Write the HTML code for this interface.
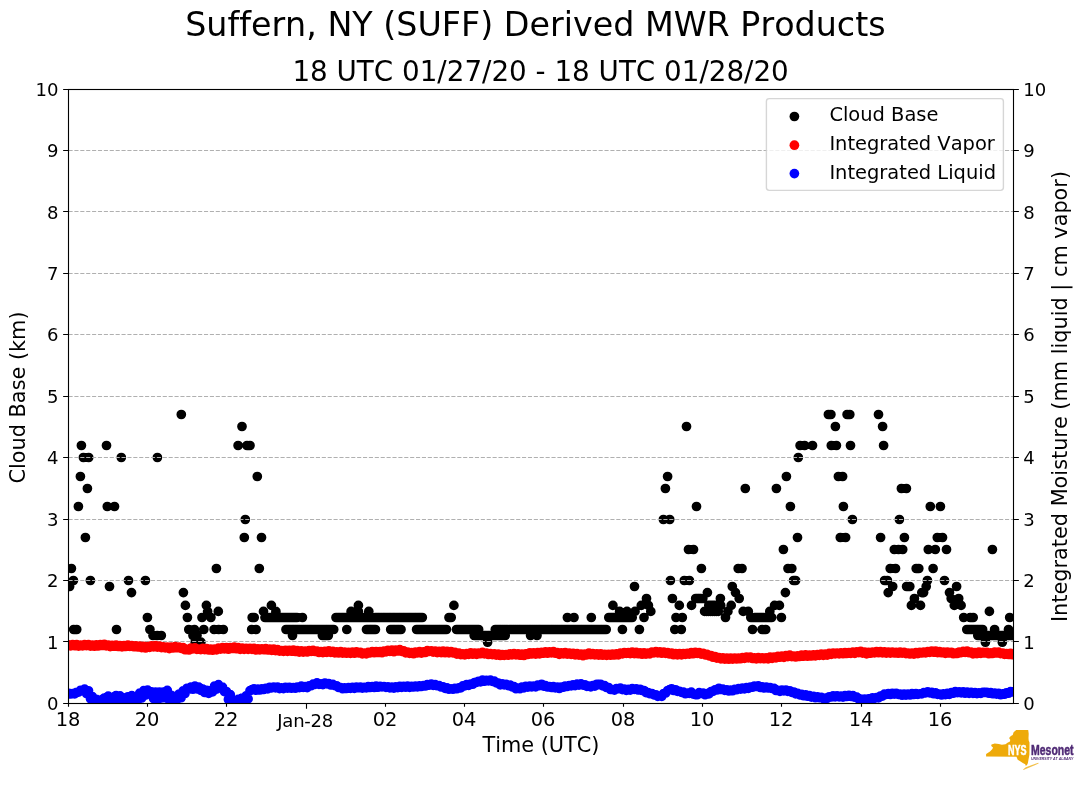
<!DOCTYPE html><html><head><meta charset="utf-8"><title>Suffern, NY (SUFF) Derived MWR Products</title>
<style>html,body{margin:0;padding:0;background:#fff}svg{display:block}text{font-family:'DejaVu Sans','Liberation Sans',sans-serif;fill:#000;font-variant-ligatures:none;font-feature-settings:"liga" 0,"clig" 0;font-kerning:none}</style></head><body>
<svg width="1089" height="804" viewBox="0 0 1089 804">
<rect width="1089" height="804" fill="#fff"/>
<defs><clipPath id="ax"><rect x="68.5" y="89.5" width="945.0" height="614.0"/></clipPath></defs>
<g clip-path="url(#ax)"><path d="M69.6 586.5h0M71.4 568.5h0M73.4 580.5h0M73.7 629.5h0M76.7 629.5h0M78.4 506.5h0M80.4 476.5h0M81.4 445.5h0M83.4 457.5h0M85.4 537.5h0M87.4 488.5h0M88.7 457.5h0M90.4 580.5h0M106.5 445.5h0M107.3 506.5h0M109.5 586.5h0M114.5 506.5h0M116.5 629.5h0M121.3 457.5h0M128.5 580.5h0M131.5 592.6h0M145.4 580.5h0M147.4 617.5h0M149.9 629.5h0M153.0 635.5h0M157.2 635.5h0M157.4 457.5h0M161.3 635.5h0M181.3 414.5h0M183.4 592.6h0M185.4 605.4h0M187.4 617.5h0M188.8 629.5h0M193.0 635.5h0M194.4 629.5h0M195.2 642.2h0M197.0 635.5h0M200.9 642.2h0M202.0 617.5h0M203.8 629.5h0M206.4 605.4h0M207.6 611.4h0M210.9 617.5h0M214.1 629.5h0M216.4 568.5h0M218.3 611.4h0M218.7 629.5h0M223.3 629.5h0M238.1 445.5h0M242.0 426.5h0M244.3 537.5h0M245.3 519.5h0M247.0 445.5h0M250.0 445.5h0M251.7 629.5h0M252.2 617.5h0M254.2 617.5h0M256.1 629.5h0M257.3 476.5h0M259.3 568.5h0M261.5 537.5h0M263.5 611.4h0M265.0 617.5h0M267.0 617.5h0M269.0 617.5h0M271.0 617.5h0M271.4 605.4h0M273.0 617.5h0M275.0 617.5h0M275.9 611.4h0M277.0 617.5h0M279.0 617.5h0M281.0 617.5h0M283.0 617.5h0M285.0 617.5h0M286.0 629.5h0M287.0 617.5h0M288.0 629.5h0M289.0 617.5h0M290.0 629.5h0M291.0 617.5h0M292.0 629.5h0M292.5 635.5h0M293.0 617.5h0M293.9 629.5h0M295.0 617.5h0M295.9 629.5h0M297.0 617.5h0M297.9 629.5h0M299.9 629.5h0M301.9 629.5h0M302.4 617.5h0M303.9 629.5h0M305.9 629.5h0M307.9 629.5h0M309.9 629.5h0M311.8 629.5h0M313.8 629.5h0M315.8 629.5h0M317.8 629.5h0M319.8 629.5h0M321.8 629.5h0M322.4 635.5h0M323.8 629.5h0M324.4 635.5h0M325.8 629.5h0M326.3 635.5h0M327.7 629.5h0M328.3 635.5h0M329.7 629.5h0M331.7 629.5h0M333.7 629.5h0M336.0 617.5h0M338.0 617.5h0M339.9 617.5h0M341.9 617.5h0M343.8 617.5h0M345.8 617.5h0M346.8 629.5h0M347.8 617.5h0M349.7 617.5h0M351.1 611.4h0M351.7 617.5h0M353.7 617.5h0M355.6 617.5h0M357.6 617.5h0M358.4 605.4h0M358.4 611.4h0M359.5 617.5h0M361.5 617.5h0M363.5 617.5h0M365.4 617.5h0M366.5 629.5h0M367.4 617.5h0M368.3 629.5h0M368.8 611.4h0M369.3 617.5h0M370.1 629.5h0M371.3 617.5h0M371.8 629.5h0M373.3 617.5h0M373.6 629.5h0M375.2 617.5h0M375.4 629.5h0M377.2 617.5h0M379.1 617.5h0M381.1 617.5h0M383.1 617.5h0M385.0 617.5h0M387.0 617.5h0M389.0 617.5h0M390.7 629.5h0M390.9 617.5h0M392.8 629.5h0M392.9 617.5h0M394.8 629.5h0M394.8 617.5h0M396.8 617.5h0M396.9 629.5h0M398.8 617.5h0M398.9 629.5h0M400.7 617.5h0M401.0 629.5h0M402.7 617.5h0M404.6 617.5h0M406.6 617.5h0M408.6 617.5h0M410.5 617.5h0M412.5 617.5h0M414.5 617.5h0M416.4 617.5h0M416.6 629.5h0M418.4 617.5h0M418.6 629.5h0M420.3 617.5h0M420.6 629.5h0M422.3 617.5h0M422.6 629.5h0M424.5 629.5h0M426.5 629.5h0M428.5 629.5h0M430.5 629.5h0M432.5 629.5h0M434.5 629.5h0M436.5 629.5h0M438.5 629.5h0M440.4 629.5h0M442.4 629.5h0M444.4 629.5h0M446.4 629.5h0M449.0 617.5h0M451.2 617.5h0M453.9 605.4h0M456.5 629.5h0M458.5 629.5h0M460.5 629.5h0M462.5 629.5h0M464.5 629.5h0M466.5 629.5h0M468.6 629.5h0M470.6 629.5h0M472.6 629.5h0M474.2 635.5h0M474.6 629.5h0M476.1 635.5h0M476.6 629.5h0M478.1 635.5h0M478.6 629.5h0M480.0 635.5h0M481.9 635.5h0M483.9 635.5h0M485.8 635.5h0M487.6 642.2h0M487.8 635.5h0M489.7 635.5h0M491.6 635.5h0M493.6 635.5h0M495.3 629.5h0M495.5 635.5h0M497.3 629.5h0M497.4 635.5h0M499.3 629.5h0M499.4 635.5h0M501.2 629.5h0M501.3 635.5h0M503.2 629.5h0M503.3 635.5h0M505.2 635.5h0M505.2 629.5h0M507.2 629.5h0M509.2 629.5h0M511.1 629.5h0M513.1 629.5h0M515.1 629.5h0M517.1 629.5h0M519.1 629.5h0M521.0 629.5h0M523.0 629.5h0M525.0 629.5h0M527.0 629.5h0M529.0 629.5h0M530.6 635.5h0M530.9 629.5h0M532.9 629.5h0M534.9 629.5h0M536.9 629.5h0M537.0 635.5h0M538.9 629.5h0M540.8 629.5h0M542.8 629.5h0M544.8 629.5h0M546.8 629.5h0M548.8 629.5h0M550.8 629.5h0M552.7 629.5h0M554.7 629.5h0M556.7 629.5h0M558.7 629.5h0M560.7 629.5h0M562.6 629.5h0M564.6 629.5h0M566.6 629.5h0M567.4 617.5h0M568.6 629.5h0M570.6 629.5h0M572.5 629.5h0M574.0 617.5h0M574.5 629.5h0M576.5 629.5h0M578.5 629.5h0M580.5 629.5h0M582.4 629.5h0M584.4 629.5h0M586.4 629.5h0M588.4 629.5h0M590.4 629.5h0M591.3 617.5h0M592.3 629.5h0M594.3 629.5h0M596.3 629.5h0M598.3 629.5h0M600.3 629.5h0M602.2 629.5h0M604.2 629.5h0M606.2 629.5h0M608.8 617.5h0M610.8 617.5h0M612.7 617.5h0M612.9 605.4h0M614.6 617.5h0M616.6 617.5h0M618.5 617.5h0M619.6 611.4h0M620.5 617.5h0M622.4 629.5h0M622.5 617.5h0M624.4 617.5h0M626.4 617.5h0M627.0 611.4h0M628.3 617.5h0M630.2 617.5h0M632.2 617.5h0M634.5 586.5h0M635.0 611.4h0M639.4 629.5h0M641.3 605.4h0M644.0 617.5h0M646.5 598.5h0M648.4 605.4h0M650.8 611.4h0M663.4 519.5h0M665.4 488.5h0M667.6 476.5h0M669.7 519.5h0M670.4 580.5h0M672.4 598.5h0M674.8 629.5h0M676.0 617.5h0M679.3 605.4h0M681.3 629.5h0M682.3 617.5h0M684.3 580.5h0M686.5 426.5h0M688.5 549.5h0M689.4 580.5h0M691.5 605.4h0M693.5 549.5h0M695.7 598.5h0M696.5 506.5h0M697.5 598.5h0M699.2 598.5h0M701.0 598.5h0M701.4 568.5h0M702.8 598.5h0M704.6 611.4h0M706.6 611.4h0M707.4 592.6h0M708.5 611.4h0M708.8 605.4h0M710.5 611.4h0M710.8 605.4h0M712.4 611.4h0M712.8 605.4h0M714.4 611.4h0M714.8 605.4h0M716.3 611.4h0M716.7 605.4h0M718.3 611.4h0M718.7 605.4h0M720.4 598.5h0M720.7 605.4h0M725.5 617.5h0M727.9 611.4h0M731.2 605.4h0M732.3 586.5h0M735.5 592.6h0M738.2 568.5h0M739.2 598.5h0M742.0 568.5h0M743.2 611.4h0M745.3 488.5h0M748.3 611.4h0M750.8 617.5h0M752.5 629.5h0M752.7 617.5h0M754.6 617.5h0M756.5 617.5h0M758.4 617.5h0M760.3 617.5h0M762.1 629.5h0M762.1 617.5h0M764.0 617.5h0M765.7 629.5h0M765.9 617.5h0M767.8 617.5h0M769.7 617.5h0M769.8 611.4h0M771.6 617.5h0M774.6 605.4h0M776.4 488.5h0M779.4 605.4h0M781.4 617.5h0M783.4 549.5h0M785.4 592.6h0M786.4 476.5h0M788.0 568.5h0M790.4 506.5h0M791.8 568.5h0M793.6 580.5h0M795.6 580.5h0M797.5 537.5h0M798.3 457.5h0M800.1 445.5h0M804.6 445.5h0M812.5 445.5h0M828.4 414.5h0M830.9 414.5h0M831.3 445.5h0M835.4 426.5h0M836.4 445.5h0M838.4 476.5h0M840.3 537.5h0M842.6 476.5h0M843.4 506.5h0M845.6 537.5h0M847.1 414.5h0M849.8 414.5h0M850.5 445.5h0M852.4 519.5h0M878.5 414.5h0M880.6 537.5h0M882.6 426.5h0M883.6 445.5h0M884.6 580.5h0M887.4 580.5h0M888.2 592.6h0M890.2 568.5h0M892.7 586.5h0M894.3 549.5h0M895.5 568.5h0M898.5 549.5h0M899.4 519.5h0M901.4 488.5h0M902.7 549.5h0M904.4 537.5h0M906.4 488.5h0M906.6 586.5h0M909.8 586.5h0M911.4 605.4h0M914.4 598.5h0M916.2 568.5h0M918.8 568.5h0M920.5 605.4h0M921.8 592.6h0M923.6 592.6h0M926.2 586.5h0M927.4 580.5h0M928.3 549.5h0M930.3 506.5h0M933.1 568.5h0M935.3 549.5h0M937.3 537.5h0M940.4 506.5h0M942.5 537.5h0M944.5 580.5h0M946.5 549.5h0M949.5 592.6h0M951.2 598.5h0M954.3 605.4h0M956.6 586.5h0M958.7 598.5h0M961.1 605.4h0M963.7 617.5h0M966.8 629.5h0M968.8 629.5h0M970.2 617.5h0M970.8 629.5h0M972.7 629.5h0M973.2 617.5h0M974.7 629.5h0M976.7 629.5h0M977.8 635.5h0M978.6 629.5h0M979.8 635.5h0M980.6 629.5h0M981.7 635.5h0M982.6 629.5h0M983.7 635.5h0M985.4 642.2h0M985.6 635.5h0M987.6 635.5h0M989.4 611.4h0M989.5 635.5h0M991.5 635.5h0M992.4 549.5h0M993.4 635.5h0M994.6 629.5h0M995.4 635.5h0M997.4 635.5h0M999.3 635.5h0M1001.3 635.5h0M1002.3 642.2h0M1003.2 635.5h0M1005.2 635.5h0M1007.1 635.5h0M1008.5 629.5h0M1009.1 635.5h0M1009.7 617.5h0M1011.0 635.5h0M1013.0 635.5h0" stroke="#000" stroke-width="9.72" stroke-linecap="round" fill="none"/></g>
<path d="M68.5 641.50H1013.5M68.5 580.50H1013.5M68.5 519.50H1013.5M68.5 457.50H1013.5M68.5 396.50H1013.5M68.5 334.50H1013.5M68.5 273.50H1013.5M68.5 211.50H1013.5M68.5 150.50H1013.5" stroke="#b0b0b0" stroke-width="1.11" stroke-dasharray="4.11 1.78" fill="none"/>
<g clip-path="url(#ax)"><path d="M68.8 644.8h0M70.8 645.8h0M72.7 644.5h0M74.7 645.7h0M76.7 644.7h0M78.6 646.1h0M80.6 645.1h0M82.6 645.9h0M84.6 644.7h0M86.5 645.6h0M88.5 644.7h0M90.5 646.1h0M92.4 645.2h0M94.4 646.2h0M96.4 644.9h0M98.3 646.0h0M100.3 644.7h0M102.3 645.5h0M104.3 644.3h0M106.2 645.8h0M108.2 645.0h0M110.2 646.6h0M112.1 645.4h0M114.1 646.2h0M116.1 645.1h0M118.0 646.5h0M120.0 645.7h0M122.0 646.8h0M124.0 645.5h0M125.9 646.5h0M127.9 645.2h0M129.9 646.4h0M131.8 645.5h0M133.8 646.7h0M135.8 645.8h0M137.8 647.0h0M139.7 646.2h0M141.7 647.6h0M143.7 646.4h0M145.6 648.0h0M147.6 646.6h0M149.6 647.3h0M151.5 645.8h0M153.5 646.9h0M155.5 645.7h0M157.4 647.1h0M159.4 646.0h0M161.4 647.6h0M163.4 646.8h0M165.3 647.9h0M167.3 647.0h0M169.3 648.6h0M171.2 647.2h0M173.2 648.0h0M175.2 646.7h0M177.1 647.7h0M179.1 647.1h0M181.1 648.4h0M183.1 647.7h0M185.0 649.7h0M187.0 649.3h0M189.0 650.0h0M190.9 648.2h0M192.9 648.8h0M194.9 647.9h0M196.9 649.3h0M198.8 649.0h0M200.8 649.6h0M202.8 648.4h0M204.7 649.6h0M206.7 648.5h0M208.7 650.0h0M210.6 649.1h0M212.6 650.2h0M214.6 649.2h0M216.6 649.8h0M218.5 648.2h0M220.5 649.1h0M222.5 647.7h0M224.4 648.8h0M226.4 647.6h0M228.4 649.2h0M230.3 647.6h0M232.3 648.5h0M234.3 647.2h0M236.2 648.7h0M238.2 647.7h0M240.2 649.3h0M242.2 648.2h0M244.1 649.4h0M246.1 648.4h0M248.1 649.3h0M250.0 648.3h0M252.0 649.3h0M254.0 648.3h0M255.9 650.0h0M257.9 648.8h0M259.9 649.9h0M261.9 648.8h0M263.8 649.7h0M265.8 648.7h0M267.8 650.0h0M269.7 649.0h0M271.7 650.4h0M273.7 649.1h0M275.6 650.6h0M277.6 649.6h0M279.6 651.1h0M281.6 650.5h0M283.5 651.4h0M285.5 650.3h0M287.5 651.4h0M289.4 650.3h0M291.4 651.2h0M293.4 650.2h0M295.3 651.5h0M297.3 650.7h0M299.3 652.1h0M301.3 650.9h0M303.2 652.1h0M305.2 651.0h0M307.2 652.0h0M309.1 650.5h0M311.1 651.4h0M313.1 650.4h0M315.1 651.5h0M317.0 651.1h0M319.0 652.5h0M321.0 651.6h0M322.9 652.6h0M324.9 651.3h0M326.9 652.4h0M328.8 650.9h0M330.8 652.3h0M332.8 651.4h0M334.8 652.9h0M336.7 651.9h0M338.7 653.0h0M340.7 651.6h0M342.6 653.1h0M344.6 652.2h0M346.6 653.2h0M348.5 652.4h0M350.5 653.4h0M352.5 652.0h0M354.4 653.2h0M356.4 651.8h0M358.4 652.8h0M360.4 652.4h0M362.3 653.9h0M364.3 653.0h0M366.3 653.9h0M368.2 652.4h0M370.2 652.8h0M372.2 651.6h0M374.2 652.7h0M376.1 651.7h0M378.1 652.5h0M380.1 651.6h0M382.0 652.7h0M384.0 651.0h0M386.0 651.8h0M387.9 650.3h0M389.9 651.4h0M391.9 650.2h0M393.9 651.7h0M395.8 650.1h0M397.8 651.0h0M399.8 649.6h0M401.7 651.4h0M403.7 650.9h0M405.7 652.9h0M407.6 652.0h0M409.6 653.4h0M411.6 652.6h0M413.6 653.7h0M415.5 652.2h0M417.5 652.8h0M419.5 651.7h0M421.4 653.1h0M423.4 651.8h0M425.4 652.5h0M427.3 650.7h0M429.3 651.4h0M431.3 650.8h0M433.2 652.1h0M435.2 651.1h0M437.2 652.6h0M439.2 651.4h0M441.1 652.6h0M443.1 651.2h0M445.1 652.7h0M447.0 651.3h0M449.0 652.8h0M451.0 651.5h0M452.9 652.8h0M454.9 652.3h0M456.9 654.1h0M458.9 653.2h0M460.8 654.6h0M462.8 653.9h0M464.8 654.9h0M466.7 653.5h0M468.7 654.4h0M470.7 652.9h0M472.7 654.2h0M474.6 653.2h0M476.6 654.4h0M478.6 653.2h0M480.5 653.7h0M482.5 652.4h0M484.5 653.8h0M486.4 653.1h0M488.4 654.5h0M490.4 653.5h0M492.4 654.6h0M494.3 653.8h0M496.3 655.1h0M498.3 654.1h0M500.2 655.5h0M502.2 654.6h0M504.2 655.4h0M506.1 654.5h0M508.1 655.2h0M510.1 653.8h0M512.0 654.8h0M514.0 653.6h0M516.0 654.8h0M518.0 653.8h0M519.9 655.2h0M521.9 654.0h0M523.9 655.5h0M525.8 653.8h0M527.8 654.5h0M529.8 652.8h0M531.8 654.0h0M533.7 652.9h0M535.7 654.1h0M537.7 652.7h0M539.6 653.8h0M541.6 652.3h0M543.6 653.2h0M545.5 651.9h0M547.5 653.2h0M549.5 651.9h0M551.4 652.8h0M553.4 651.6h0M555.4 653.2h0M557.4 652.6h0M559.3 654.3h0M561.3 652.9h0M563.3 653.9h0M565.2 652.5h0M567.2 654.1h0M569.2 653.2h0M571.1 654.3h0M573.1 653.3h0M575.1 654.9h0M577.1 653.7h0M579.0 655.1h0M581.0 654.2h0M583.0 655.7h0M584.9 654.2h0M586.9 654.9h0M588.9 653.2h0M590.8 654.6h0M592.8 653.5h0M594.8 654.9h0M596.8 653.8h0M598.7 655.1h0M600.7 653.9h0M602.7 655.2h0M604.6 654.3h0M606.6 655.4h0M608.6 654.3h0M610.5 655.2h0M612.5 654.0h0M614.5 655.0h0M616.5 653.8h0M618.4 654.9h0M620.4 653.2h0M622.4 653.8h0M624.3 652.6h0M626.3 653.4h0M628.3 652.5h0M630.2 653.6h0M632.2 652.2h0M634.2 653.6h0M636.2 652.4h0M638.1 653.7h0M640.1 652.9h0M642.1 654.2h0M644.0 652.9h0M646.0 654.1h0M648.0 653.0h0M649.9 653.8h0M651.9 652.2h0M653.9 652.8h0M655.9 651.6h0M657.8 652.9h0M659.8 651.9h0M661.8 653.2h0M663.7 652.2h0M665.7 653.4h0M667.7 652.6h0M669.6 654.0h0M671.6 653.0h0M673.6 654.7h0M675.6 653.6h0M677.5 654.8h0M679.5 653.7h0M681.5 654.8h0M683.4 653.7h0M685.4 654.3h0M687.4 653.3h0M689.3 654.1h0M691.3 652.7h0M693.3 653.7h0M695.3 652.4h0M697.2 653.4h0M699.2 652.7h0M701.2 654.1h0M703.1 653.3h0M705.1 654.9h0M707.1 654.4h0M709.0 655.8h0M711.0 655.5h0M713.0 657.2h0M715.0 656.5h0M716.9 658.1h0M718.9 657.5h0M720.9 658.8h0M722.8 657.9h0M724.8 659.1h0M726.8 658.1h0M728.8 659.2h0M730.7 658.1h0M732.7 659.1h0M734.7 658.2h0M736.6 659.0h0M738.6 658.0h0M740.6 658.7h0M742.5 657.6h0M744.5 658.3h0M746.5 657.1h0M748.4 657.8h0M750.4 657.1h0M752.4 658.5h0M754.4 657.9h0M756.3 658.9h0M758.3 657.7h0M760.3 658.6h0M762.2 657.8h0M764.2 658.7h0M766.2 657.9h0M768.1 658.9h0M770.1 657.2h0M772.1 658.4h0M774.1 657.1h0M776.0 657.9h0M778.0 656.3h0M780.0 657.2h0M781.9 656.0h0M783.9 657.3h0M785.9 655.6h0M787.8 656.6h0M789.8 655.1h0M791.8 656.6h0M793.8 656.0h0M795.7 657.0h0M797.7 655.8h0M799.7 656.5h0M801.6 655.2h0M803.6 656.2h0M805.6 654.9h0M807.5 656.2h0M809.5 655.0h0M811.5 656.0h0M813.5 654.8h0M815.4 655.9h0M817.4 654.6h0M819.4 655.4h0M821.3 654.2h0M823.3 655.3h0M825.3 654.1h0M827.2 655.1h0M829.2 653.4h0M831.2 654.4h0M833.2 653.2h0M835.1 653.9h0M837.1 653.0h0M839.1 653.9h0M841.0 652.9h0M843.0 653.7h0M845.0 652.5h0M846.9 653.5h0M848.9 652.5h0M850.9 653.4h0M852.9 652.2h0M854.8 653.4h0M856.8 651.9h0M858.8 652.6h0M860.7 651.3h0M862.7 653.1h0M864.7 652.1h0M866.6 653.9h0M868.6 652.3h0M870.6 653.2h0M872.6 652.0h0M874.5 652.8h0M876.5 651.5h0M878.5 652.7h0M880.4 651.6h0M882.4 652.8h0M884.4 651.8h0M886.3 653.1h0M888.3 652.1h0M890.3 653.1h0M892.3 652.2h0M894.2 653.0h0M896.2 652.3h0M898.2 653.2h0M900.1 652.1h0M902.1 653.1h0M904.1 652.3h0M906.0 653.6h0M908.0 653.2h0M910.0 654.0h0M912.0 653.1h0M913.9 654.1h0M915.9 652.7h0M917.9 653.6h0M919.8 652.3h0M921.8 653.0h0M923.8 652.0h0M925.7 652.9h0M927.7 651.7h0M929.7 652.4h0M931.7 651.0h0M933.6 652.2h0M935.6 651.2h0M937.6 652.6h0M939.5 651.5h0M941.5 652.7h0M943.5 652.1h0M945.4 653.3h0M947.4 652.0h0M949.4 653.0h0M951.4 652.3h0M953.3 653.7h0M955.3 653.0h0M957.3 653.5h0M959.2 652.0h0M961.2 652.6h0M963.2 651.4h0M965.1 652.4h0M967.1 651.2h0M969.1 652.7h0M971.1 652.2h0M973.0 653.9h0M975.0 652.6h0M977.0 653.6h0M978.9 652.2h0M980.9 653.3h0M982.9 652.3h0M984.8 653.0h0M986.8 652.3h0M988.8 653.7h0M990.8 652.9h0M992.7 653.5h0M994.7 652.1h0M996.7 653.0h0M998.6 652.2h0M1000.6 653.6h0M1002.6 653.0h0M1004.5 654.3h0M1006.5 653.5h0M1008.5 654.5h0M1010.5 653.4h0M1012.4 654.7h0" stroke="#f00" stroke-width="9.72" stroke-linecap="round" fill="none"/><path d="M68.8 693.4h0M70.8 694.0h0M72.7 693.5h0M74.7 693.8h0M76.7 692.3h0M78.6 692.1h0M80.6 690.3h0M82.6 690.4h0M84.6 689.1h0M86.5 693.6h0M88.5 690.8h0M90.5 698.8h0M92.4 696.7h0M94.4 701.1h0M96.4 699.4h0M98.3 701.4h0M100.3 700.0h0M102.3 701.4h0M104.3 698.0h0M106.2 700.7h0M108.2 696.2h0M110.2 700.6h0M112.1 697.6h0M114.1 700.9h0M116.1 695.5h0M118.0 700.7h0M120.0 695.9h0M122.0 699.9h0M124.0 698.0h0M125.9 700.0h0M127.9 696.8h0M129.9 699.6h0M131.8 695.6h0M133.8 699.6h0M135.8 697.3h0M137.8 700.0h0M139.7 693.2h0M141.7 698.0h0M143.7 690.6h0M145.6 695.1h0M147.6 690.2h0M149.6 691.8h0M151.5 691.8h0M153.5 698.6h0M155.5 692.0h0M157.4 700.2h0M159.4 692.0h0M161.4 698.0h0M163.4 692.1h0M165.3 697.7h0M167.3 690.4h0M169.3 700.2h0M171.2 695.3h0M173.2 700.8h0M175.2 697.3h0M177.1 699.3h0M179.1 694.0h0M181.1 697.7h0M183.1 690.9h0M185.0 693.5h0M187.0 688.3h0M189.0 689.1h0M190.9 687.1h0M192.9 689.2h0M194.9 686.1h0M196.9 688.8h0M198.8 687.1h0M200.8 690.4h0M202.8 689.1h0M204.7 692.5h0M206.7 690.3h0M208.7 693.4h0M210.6 690.7h0M212.6 691.8h0M214.6 686.0h0M216.6 689.1h0M218.5 684.7h0M220.5 687.9h0M222.5 687.1h0M224.4 691.6h0M226.4 691.5h0M228.4 699.5h0M230.3 694.7h0M232.3 700.8h0M234.3 700.5h0M236.2 701.3h0M238.2 699.4h0M240.2 701.4h0M242.2 698.0h0M244.1 700.5h0M246.1 695.9h0M248.1 698.9h0M250.0 690.7h0M252.0 689.7h0M254.0 688.8h0M255.9 690.2h0M257.9 689.1h0M259.9 690.0h0M261.9 688.8h0M263.8 689.5h0M265.8 688.3h0M267.8 688.9h0M269.7 687.3h0M271.7 687.8h0M273.7 687.1h0M275.6 687.8h0M277.6 687.1h0M279.6 688.6h0M281.6 687.8h0M283.5 688.6h0M285.5 687.3h0M287.5 688.1h0M289.4 687.3h0M291.4 688.2h0M293.4 687.5h0M295.3 688.2h0M297.3 687.0h0M299.3 687.6h0M301.3 686.2h0M303.2 687.3h0M305.2 686.7h0M307.2 687.6h0M309.1 685.9h0M311.1 685.7h0M313.1 684.1h0M315.1 684.3h0M317.0 682.9h0M319.0 684.3h0M321.0 683.9h0M322.9 684.6h0M324.9 683.0h0M326.9 683.9h0M328.8 683.6h0M330.8 685.0h0M332.8 684.4h0M334.8 685.6h0M336.7 685.9h0M338.7 687.5h0M340.7 687.7h0M342.6 688.7h0M344.6 687.8h0M346.6 688.5h0M348.5 687.7h0M350.5 688.3h0M352.5 687.4h0M354.4 688.3h0M356.4 687.2h0M358.4 687.7h0M360.4 687.1h0M362.3 688.1h0M364.3 687.3h0M366.3 687.9h0M368.2 686.7h0M370.2 687.5h0M372.2 686.7h0M374.2 687.5h0M376.1 686.2h0M378.1 687.2h0M380.1 686.3h0M382.0 686.8h0M384.0 686.5h0M386.0 687.3h0M387.9 686.8h0M389.9 687.9h0M391.9 687.2h0M393.9 688.1h0M395.8 686.9h0M397.8 687.6h0M399.8 686.3h0M401.7 687.3h0M403.7 686.3h0M405.7 687.2h0M407.6 686.2h0M409.6 687.3h0M411.6 686.3h0M413.6 687.0h0M415.5 686.1h0M417.5 686.9h0M419.5 685.8h0M421.4 686.5h0M423.4 685.7h0M425.4 686.0h0M427.3 684.6h0M429.3 685.1h0M431.3 684.2h0M433.2 685.3h0M435.2 684.6h0M437.2 685.7h0M439.2 685.7h0M441.1 687.0h0M443.1 686.9h0M445.1 688.4h0M447.0 687.9h0M449.0 689.2h0M451.0 688.9h0M452.9 689.2h0M454.9 688.3h0M456.9 688.7h0M458.9 687.8h0M460.8 687.8h0M462.8 685.9h0M464.8 685.9h0M466.7 684.5h0M468.7 685.4h0M470.7 684.0h0M472.7 684.2h0M474.6 682.5h0M476.6 682.3h0M478.6 681.3h0M480.5 681.9h0M482.5 680.2h0M484.5 681.2h0M486.4 680.3h0M488.4 680.9h0M490.4 680.2h0M492.4 681.3h0M494.3 681.1h0M496.3 682.8h0M498.3 683.0h0M500.2 684.8h0M502.2 683.8h0M504.2 684.9h0M506.1 684.3h0M508.1 685.6h0M510.1 685.2h0M512.0 686.8h0M514.0 686.7h0M516.0 688.7h0M518.0 688.1h0M519.9 688.7h0M521.9 687.1h0M523.9 687.8h0M525.8 686.3h0M527.8 687.1h0M529.8 686.2h0M531.8 686.9h0M533.7 686.1h0M535.7 686.8h0M537.7 685.2h0M539.6 685.6h0M541.6 684.3h0M543.6 686.1h0M545.5 685.6h0M547.5 687.0h0M549.5 686.6h0M551.4 687.5h0M553.4 686.7h0M555.4 687.8h0M557.4 687.1h0M559.3 688.5h0M561.3 687.0h0M563.3 687.2h0M565.2 686.0h0M567.2 686.5h0M569.2 685.5h0M571.1 685.9h0M573.1 684.8h0M575.1 685.6h0M577.1 684.2h0M579.0 685.1h0M581.0 683.9h0M583.0 685.1h0M584.9 684.8h0M586.9 686.3h0M588.9 686.1h0M590.8 686.8h0M592.8 685.5h0M594.8 686.1h0M596.8 684.3h0M598.7 684.7h0M600.7 684.4h0M602.7 685.8h0M604.6 685.6h0M606.6 687.5h0M608.6 687.5h0M610.5 689.5h0M612.5 689.5h0M614.5 690.1h0M616.5 688.5h0M618.4 688.7h0M620.4 688.1h0M622.4 689.6h0M624.3 689.1h0M626.3 690.4h0M628.3 689.3h0M630.2 690.1h0M632.2 688.7h0M634.2 689.3h0M636.2 688.8h0M638.1 690.0h0M640.1 689.3h0M642.1 690.5h0M644.0 690.5h0M646.0 692.6h0M648.0 692.5h0M649.9 693.7h0M651.9 693.5h0M653.9 694.8h0M655.9 694.8h0M657.8 696.3h0M659.8 695.9h0M661.8 696.3h0M663.7 693.5h0M665.7 693.0h0M667.7 690.5h0M669.6 689.7h0M671.6 688.8h0M673.6 690.5h0M675.6 689.8h0M677.5 691.4h0M679.5 691.3h0M681.5 692.4h0M683.4 692.2h0M685.4 693.7h0M687.4 693.1h0M689.3 693.4h0M691.3 692.2h0M693.3 694.1h0M695.3 694.6h0M697.2 694.7h0M699.2 692.7h0M701.2 693.3h0M703.1 693.1h0M705.1 694.7h0M707.1 693.7h0M709.0 693.8h0M711.0 691.7h0M713.0 691.3h0M715.0 689.9h0M716.9 690.0h0M718.9 688.3h0M720.9 689.5h0M722.8 689.1h0M724.8 690.4h0M726.8 689.8h0M728.8 691.0h0M730.7 690.0h0M732.7 690.7h0M734.7 689.4h0M736.6 689.7h0M738.6 688.6h0M740.6 689.1h0M742.5 688.0h0M744.5 688.8h0M746.5 687.6h0M748.4 688.4h0M750.4 687.1h0M752.4 687.2h0M754.4 686.0h0M756.3 686.4h0M758.3 685.9h0M760.3 687.5h0M762.2 686.9h0M764.2 688.0h0M766.2 687.0h0M768.1 688.0h0M770.1 687.5h0M772.1 688.5h0M774.1 688.4h0M776.0 690.5h0M778.0 690.4h0M780.0 691.4h0M781.9 690.1h0M783.9 690.8h0M785.9 690.0h0M787.8 691.4h0M789.8 690.8h0M791.8 692.3h0M793.8 692.0h0M795.7 693.8h0M797.7 693.4h0M799.7 694.8h0M801.6 694.4h0M803.6 695.7h0M805.6 694.8h0M807.5 696.2h0M809.5 695.6h0M811.5 697.1h0M813.5 696.4h0M815.4 697.7h0M817.4 696.8h0M819.4 697.7h0M821.3 697.4h0M823.3 698.6h0M825.3 698.1h0M827.2 698.3h0M829.2 696.8h0M831.2 697.0h0M833.2 695.8h0M835.1 696.9h0M837.1 695.9h0M839.1 696.9h0M841.0 696.1h0M843.0 697.1h0M845.0 695.5h0M846.9 696.5h0M848.9 695.3h0M850.9 696.4h0M852.9 695.7h0M854.8 697.2h0M856.8 697.2h0M858.8 699.0h0M860.7 699.2h0M862.7 700.1h0M864.7 699.0h0M866.6 699.9h0M868.6 698.9h0M870.6 699.5h0M872.6 697.8h0M874.5 698.4h0M876.5 697.5h0M878.5 697.9h0M880.4 696.1h0M882.4 696.1h0M884.4 694.2h0M886.3 694.4h0M888.3 693.5h0M890.3 694.5h0M892.3 693.3h0M894.2 694.1h0M896.2 693.3h0M898.2 694.4h0M900.1 694.0h0M902.1 695.2h0M904.1 694.1h0M906.0 695.1h0M908.0 694.2h0M910.0 695.0h0M912.0 693.7h0M913.9 694.5h0M915.9 693.6h0M917.9 694.4h0M919.8 693.9h0M921.8 693.9h0M923.8 692.7h0M925.7 692.8h0M927.7 691.9h0M929.7 692.9h0M931.7 692.3h0M933.6 693.7h0M935.6 692.9h0M937.6 694.4h0M939.5 694.0h0M941.5 695.0h0M943.5 693.9h0M945.4 694.6h0M947.4 693.4h0M949.4 694.3h0M951.4 692.6h0M953.3 693.2h0M955.3 691.7h0M957.3 692.6h0M959.2 691.9h0M961.2 692.8h0M963.2 691.9h0M965.1 693.2h0M967.1 692.2h0M969.1 693.4h0M971.1 692.4h0M973.0 693.4h0M975.0 692.6h0M977.0 693.6h0M978.9 692.9h0M980.9 693.4h0M982.9 692.3h0M984.8 692.5h0M986.8 692.3h0M988.8 693.2h0M990.8 692.7h0M992.7 693.7h0M994.7 693.2h0M996.7 694.1h0M998.6 693.4h0M1000.6 694.7h0M1002.6 693.8h0M1004.5 694.2h0M1006.5 692.8h0M1008.5 693.2h0M1010.5 691.7h0M1012.4 691.9h0" stroke="#00f" stroke-width="9.72" stroke-linecap="round" fill="none"/></g>
<rect x="68.5" y="89.5" width="945.0" height="614.0" fill="none" stroke="#000" stroke-width="1.11"/>
<path d="M63.14 703.50h5.36M1013.50 703.50h5.36M63.14 641.50h5.36M1013.50 641.50h5.36M63.14 580.50h5.36M1013.50 580.50h5.36M63.14 519.50h5.36M1013.50 519.50h5.36M63.14 457.50h5.36M1013.50 457.50h5.36M63.14 396.50h5.36M1013.50 396.50h5.36M63.14 334.50h5.36M1013.50 334.50h5.36M63.14 273.50h5.36M1013.50 273.50h5.36M63.14 211.50h5.36M1013.50 211.50h5.36M63.14 150.50h5.36M1013.50 150.50h5.36M63.14 89.50h5.36M1013.50 89.50h5.36M68.50 703.50v3.35M147.50 703.50v3.35M226.50 703.50v3.35M306.50 703.50v5.36M385.50 703.50v3.35M464.50 703.50v3.35M543.50 703.50v3.35M623.50 703.50v3.35M702.50 703.50v3.35M781.50 703.50v3.35M861.50 703.50v3.35M940.50 703.50v3.35" stroke="#000" stroke-width="1.11" fill="none"/>
<text x="58.4" y="709.9" font-size="18.06" text-anchor="end">0</text>
<text x="1023.2" y="709.9" font-size="18.06">0</text>
<text x="58.4" y="648.8" font-size="18.06" text-anchor="end">1</text>
<text x="1023.2" y="648.8" font-size="18.06">1</text>
<text x="58.4" y="586.9" font-size="18.06" text-anchor="end">2</text>
<text x="1023.2" y="586.9" font-size="18.06">2</text>
<text x="58.4" y="525.9" font-size="18.06" text-anchor="end">3</text>
<text x="1023.2" y="525.9" font-size="18.06">3</text>
<text x="58.4" y="463.9" font-size="18.06" text-anchor="end">4</text>
<text x="1023.2" y="463.9" font-size="18.06">4</text>
<text x="58.4" y="402.9" font-size="18.06" text-anchor="end">5</text>
<text x="1023.2" y="402.9" font-size="18.06">5</text>
<text x="58.4" y="340.9" font-size="18.06" text-anchor="end">6</text>
<text x="1023.2" y="340.9" font-size="18.06">6</text>
<text x="58.4" y="279.9" font-size="18.06" text-anchor="end">7</text>
<text x="1023.2" y="279.9" font-size="18.06">7</text>
<text x="58.4" y="218.8" font-size="18.06" text-anchor="end">8</text>
<text x="1023.2" y="218.8" font-size="18.06">8</text>
<text x="58.4" y="156.8" font-size="18.06" text-anchor="end">9</text>
<text x="1023.2" y="156.8" font-size="18.06">9</text>
<text x="58.4" y="95.8" font-size="18.06" text-anchor="end">10</text>
<text x="1023.2" y="95.8" font-size="18.06">10</text>
<text x="68.0" y="725.8" font-size="19.44" text-anchor="middle">18</text>
<text x="147.0" y="725.8" font-size="19.44" text-anchor="middle">20</text>
<text x="226.0" y="725.8" font-size="19.44" text-anchor="middle">22</text>
<text x="277.3" y="727.2" font-size="18.06" textLength="56">Jan-28</text>
<text x="385.0" y="725.8" font-size="19.44" text-anchor="middle">02</text>
<text x="464.0" y="725.8" font-size="19.44" text-anchor="middle">04</text>
<text x="543.0" y="725.8" font-size="19.44" text-anchor="middle">06</text>
<text x="623.0" y="725.8" font-size="19.44" text-anchor="middle">08</text>
<text x="702.0" y="725.8" font-size="19.44" text-anchor="middle">10</text>
<text x="781.0" y="725.8" font-size="19.44" text-anchor="middle">12</text>
<text x="861.0" y="725.8" font-size="19.44" text-anchor="middle">14</text>
<text x="940.0" y="725.8" font-size="19.44" text-anchor="middle">16</text>
<text x="541.0" y="752.2" font-size="20.83" text-anchor="middle">Time (UTC)</text>
<text transform="translate(24.9 397.5) rotate(-90)" font-size="20.83" text-anchor="middle">Cloud Base (km)</text>
<text transform="translate(1066.7 396.5) rotate(-90)" font-size="20.83" text-anchor="middle">Integrated Moisture (mm liquid | cm vapor)</text>
<text x="535.4" y="35.5" font-size="33.33" text-anchor="middle">Suffern, NY (SUFF) Derived MWR Products</text>
<text x="540.6" y="80.7" font-size="27.78" text-anchor="middle">18 UTC 01/27/20 - 18 UTC 01/28/20</text>
<rect x="766.4" y="98.6" width="237" height="91.8" rx="2.8" ry="2.8" fill="#fff" fill-opacity="0.8" stroke="#ccc" stroke-opacity="0.8" stroke-width="1.39"/>
<circle cx="794.4" cy="116.5" r="4.86" fill="#000"/>
<text x="829.4" y="121.0" font-size="19.44">Cloud Base</text>
<circle cx="794.4" cy="145.2" r="4.86" fill="#f00"/>
<text x="829.4" y="150.0" font-size="19.44">Integrated Vapor</text>
<circle cx="794.4" cy="173.6" r="4.86" fill="#00f"/>
<text x="829.4" y="178.7" font-size="19.44">Integrated Liquid</text>
<path d="M1016.2 730.1L1028.2 730.1L1028.7 733.8L1028.5 737.9L1028.7 740.6L1029.5 742.4L1029.4 754.7L1028.5 759.4L1027.9 763.0L1027.3 764.5L1025.9 765.9L1025.2 764.3L1022.8 763.0L1019.8 760.9L1017.7 759.7L1016.5 756.7L986.1 756.4L986.1 754.1L990.0 751.4L992.4 749.0L993.0 747.5L991.2 746.0L991.5 744.5L994.7 743.6L998.9 744.0L1001.9 744.8L1005.5 744.2L1007.9 742.4L1009.7 741.8L1010.3 740.0L1009.1 737.9L1010.9 736.1L1012.7 735.0L1013.6 732.3Z" fill="#eeaa0a"/>
<path d="M1023.1 769.6L1025.8 767.3L1030.6 765.5L1034.7 764.0L1038.3 762.7L1038.6 763.4L1035.3 764.9L1030.6 767.0L1025.8 768.9L1023.5 769.9Z" fill="#eeaa0a" fill-opacity="0.75"/>
<text x="1008.0" y="754.5" font-size="15" font-weight="bold" textLength="18.6" lengthAdjust="spacingAndGlyphs" style="font-family:'Liberation Sans',sans-serif;fill:#fff;stroke:#fff;stroke-width:0.5">NYS</text>
<text x="1031.0" y="754.5" font-size="15" font-weight="bold" textLength="42.6" lengthAdjust="spacingAndGlyphs" style="font-family:'Liberation Sans',sans-serif;fill:#4f2a75;stroke:#4f2a75;stroke-width:0.5">Mesonet</text>
<text x="1031" y="759.8" font-size="3.3" font-weight="bold" font-style="italic" textLength="42.4" lengthAdjust="spacingAndGlyphs" style="font-family:'Liberation Sans',sans-serif;fill:#4f2a75">UNIVERSITY AT ALBANY</text>
</svg></body></html>
